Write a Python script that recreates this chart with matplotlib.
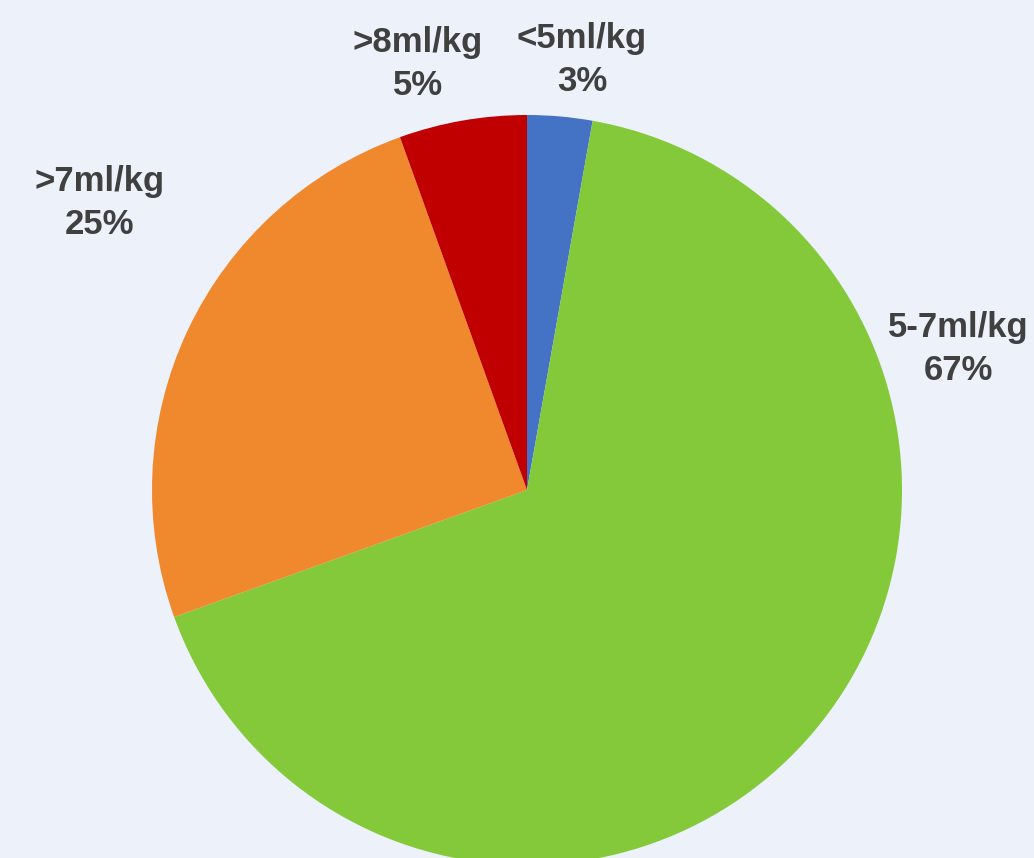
import matplotlib
matplotlib.use("Agg")
from matplotlib import pyplot as plt
from matplotlib import font_manager as fm

# slices, clockwise from 12 o'clock
categories = ['<5ml/kg', '5-7ml/kg', '>7ml/kg', '>8ml/kg']
shares = [2.8, 66.7, 25.0, 5.5]
pct_labels = ['3%', '67%', '25%', '5%']
colors = ['#4472C4', '#84C93A', '#F0882E', '#C00000']

# label anchor points (pixel coords, y from top)
label_pos = [(582, 60), (958, 349), (100, 203), (418, 64)]

W, H = 1034, 858
bg = '#EDF1F9'

# pick the regular-width Liberation Sans Bold (not Narrow)
bold_file = None
for f in fm.findSystemFonts():
    if f.endswith('LiberationSans-Bold.ttf'):
        bold_file = f
        break
if bold_file:
    fp = fm.FontProperties(fname=bold_file, size=25)
else:
    fp = fm.FontProperties(family='DejaVu Sans', weight='bold', size=22)

fig = plt.figure(figsize=(W / 100, H / 100), dpi=100, facecolor=bg)
ax = fig.add_axes([0, 0, 1, 1])
ax.set_facecolor(bg)

ax.pie(shares, colors=colors, startangle=90, counterclock=False,
       center=(527, H - 490), radius=375, frame=True,
       wedgeprops={'linewidth': 0})
ax.set_xlim(0, W)
ax.set_ylim(0, H)
ax.set_aspect('equal')
ax.axis('off')

for cat, pct, (x, y) in zip(categories, pct_labels, label_pos):
    ax.text(x, H - y, f'{cat}\n{pct}', ha='center', va='center',
            fontproperties=fp, color='#404040', linespacing=1.38)

fig.savefig('out.png', dpi=100, facecolor=bg)
